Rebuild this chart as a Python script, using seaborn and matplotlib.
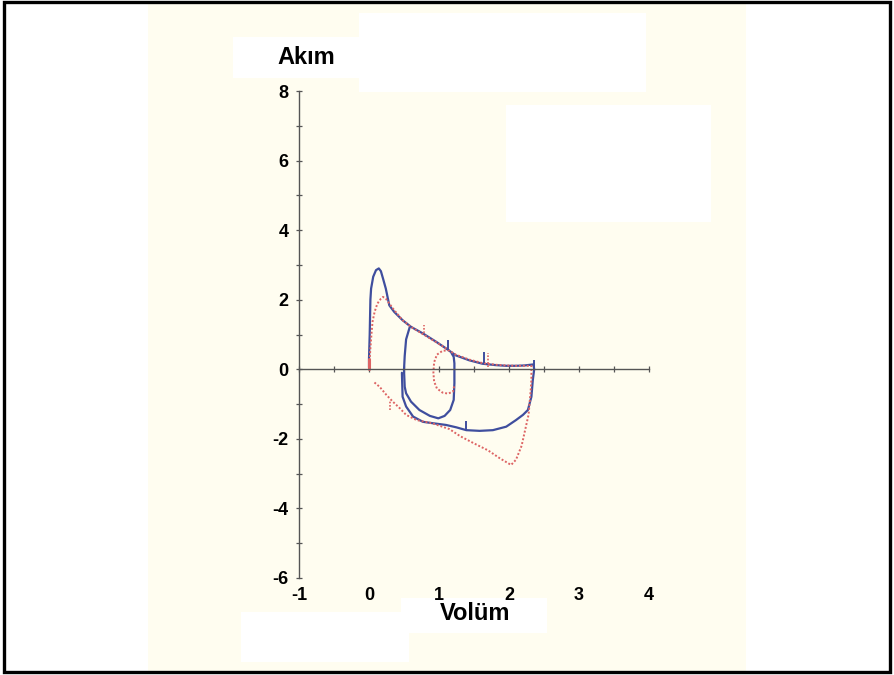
import numpy as np
import matplotlib
matplotlib.use("Agg")
import matplotlib.pyplot as plt
from matplotlib.patches import Rectangle
from matplotlib.ticker import MultipleLocator
import seaborn as sns

# --- Data: flow-volume loops (volume, flow) ---
blue_outer_vol = [0.0, 0.0, 0.01, 0.02, 0.03, 0.06, 0.10, 0.14, 0.17, 0.20, 0.24, 0.27, 0.29,
                  0.36, 0.48, 0.60, 0.77, 0.96, 1.10, 1.24, 1.43, 1.62, 1.81, 1.96, 2.10,
                  2.22, 2.35, 2.36, 2.34, 2.32, 2.27, 2.20, 2.10, 1.96, 1.77, 1.58, 1.39,
                  1.25, 1.10, 0.91, 0.77, 0.63, 0.53, 0.48, 0.47]
blue_outer_flow = [0.05, 0.30, 1.00, 2.00, 2.32, 2.66, 2.85, 2.90, 2.82, 2.61, 2.32, 2.03, 1.84,
                   1.65, 1.41, 1.22, 1.03, 0.79, 0.60, 0.40, 0.26, 0.16, 0.12, 0.10, 0.10,
                   0.11, 0.14, 0.00, -0.31, -0.79, -1.17, -1.31, -1.46, -1.65, -1.75, -1.77, -1.75,
                   -1.67, -1.60, -1.55, -1.51, -1.36, -1.07, -0.79, -0.10]

blue_inner_vol = [0.58, 0.53, 0.51, 0.50, 0.51, 0.53, 0.60, 0.72, 0.87, 0.99, 1.08, 1.16,
                  1.21, 1.22, 1.22, 1.21, 1.18]
blue_inner_flow = [1.20, 0.86, 0.38, -0.02, -0.50, -0.69, -0.93, -1.17, -1.34, -1.41, -1.34, -1.17,
                   -0.88, -0.40, 0.17, 0.36, 0.46]

red_vol = [0.0, 0.03, 0.05, 0.08, 0.12, 0.17, 0.20, 0.24, 0.29, 0.36, 0.48, 0.60, 0.77,
           0.96, 1.10, 1.24, 1.43, 1.62, 1.81, 1.96, 2.10, 2.25, 2.32, 2.32, 2.31, 2.28,
           2.23, 2.18, 2.10, 2.03, 1.87, 1.70, 1.50, 1.30, 1.15, 0.90, 0.68, 0.53, 0.44,
           0.34, 0.25, 0.15, 0.06]
red_flow = [0.02, 0.88, 1.36, 1.65, 1.89, 2.03, 2.08, 2.03, 1.89, 1.70, 1.41, 1.22, 1.01,
            0.78, 0.60, 0.42, 0.28, 0.18, 0.13, 0.11, 0.10, 0.10, 0.10, -0.30, -0.60, -1.30,
            -1.75, -2.20, -2.60, -2.75, -2.56, -2.33, -2.13, -1.92, -1.72, -1.55, -1.46, -1.31, -1.12,
            -0.93, -0.74, -0.50, -0.35]

red_inner_vol = [1.15, 1.05, 0.97, 0.93, 0.92, 0.93, 0.97, 1.05, 1.13, 1.20, 1.22]
red_inner_flow = [0.55, 0.53, 0.42, 0.20, -0.10, -0.35, -0.55, -0.67, -0.70, -0.64, -0.45]

# small event marks on the traces
blue_mark_vol = [1.13, 1.65, 1.38, 2.36]
blue_mark_lo = [0.56, 0.17, -1.75, 0.05]
blue_mark_hi = [0.84, 0.51, -1.50, 0.28]
red_mark_vol = [0.79, 1.70, 0.30]
red_mark_lo = [1.03, 0.08, -1.17]
red_mark_hi = [1.27, 0.46, -0.88]

x_ticks = [-1, 0, 1, 2, 3, 4]
y_ticks = [-6, -4, -2, 0, 2, 4, 6, 8]

BLUE = "#3f4e9e"
RED = "#dd6464"

sns.set_style("white")
plt.rcParams["font.family"] = ["Liberation Sans", "DejaVu Sans"]
plt.rcParams["axes.unicode_minus"] = False
plt.rcParams["text.color"] = "black"
plt.rcParams["xtick.labelcolor"] = "black"
plt.rcParams["ytick.labelcolor"] = "black"

fig = plt.figure(figsize=(8.95, 6.75), dpi=100)
W, H = 895, 675


def px_rect(x0, y0, x1, y1, **kw):
    # rectangle given in pixel coords (top-left origin)
    return Rectangle((x0 / W, 1 - y1 / H), (x1 - x0) / W, (y1 - y0) / H,
                     transform=fig.transFigure, **kw)


# scanned paper background and white patches
fig.add_artist(px_rect(148, 3, 746, 671, facecolor="#fffdf0", edgecolor="none", zorder=-3))
for r in [(233, 37, 359, 78), (359, 13, 646, 92), (506, 105, 711, 222),
          (401, 598, 547, 633), (241, 612, 409, 662)]:
    fig.add_artist(px_rect(*r, facecolor="white", edgecolor="none", zorder=-2))
fig.add_artist(px_rect(4, 2, 890, 672, facecolor="none", edgecolor="black", lw=2.4, zorder=5))

ax = fig.add_axes([299 / W, 1 - 578 / H, 350 / W, 487 / H])
ax.set_facecolor("none")

sns.lineplot(x=blue_outer_vol, y=blue_outer_flow, sort=False, estimator=None,
             color=BLUE, lw=1.6, ax=ax)
sns.lineplot(x=blue_inner_vol, y=blue_inner_flow, sort=False, estimator=None,
             color=BLUE, lw=1.6, ax=ax)
sns.lineplot(x=red_vol, y=red_flow, sort=False, estimator=None,
             color=RED, lw=1.4, linestyle=(0, (1, 1)), ax=ax)
sns.lineplot(x=red_inner_vol, y=red_inner_flow, sort=False, estimator=None,
             color=RED, lw=1.4, linestyle=(0, (1, 1)), ax=ax)
ax.vlines(blue_mark_vol, blue_mark_lo, blue_mark_hi, color=BLUE, lw=1.4)
ax.vlines(red_mark_vol, red_mark_lo, red_mark_hi, color=RED, lw=1.2, linestyles=(0, (1, 1)))
ax.plot([red_vol[0], red_vol[0]], [red_flow[0], 0.3], color=RED, lw=2.2)

ax.set_xlim(-1, 4)
ax.set_ylim(-6, 8)
ax.set_xticks(x_ticks)
ax.set_yticks(y_ticks)
ax.xaxis.set_minor_locator(MultipleLocator(0.5))
ax.yaxis.set_minor_locator(MultipleLocator(1))

for s in ["top", "right"]:
    ax.spines[s].set_visible(False)
ax.spines["bottom"].set_position(("data", 0))
for s in ["left", "bottom"]:
    ax.spines[s].set_color("#555555")
    ax.spines[s].set_linewidth(1.0)

ax.tick_params(axis="both", which="both", direction="inout", length=5, width=0.9,
               color="#555555", left=True, bottom=True)
ax.tick_params(axis="y", which="major", pad=5, labelsize=13)
ax.tick_params(axis="x", which="major", pad=154, labelsize=13)
for lab in ax.get_xticklabels() + ax.get_yticklabels():
    lab.set_fontweight("bold")
ax.set_xlabel("")
ax.set_ylabel("")

fig.text(306 / W, 1 - 58 / H, "Akım", ha="center", va="center", fontsize=17, fontweight="bold")
fig.text(475 / W, 1 - 614 / H, "Volüm", ha="center", va="center", fontsize=17, fontweight="bold")

fig.savefig("out.png", dpi=100)
